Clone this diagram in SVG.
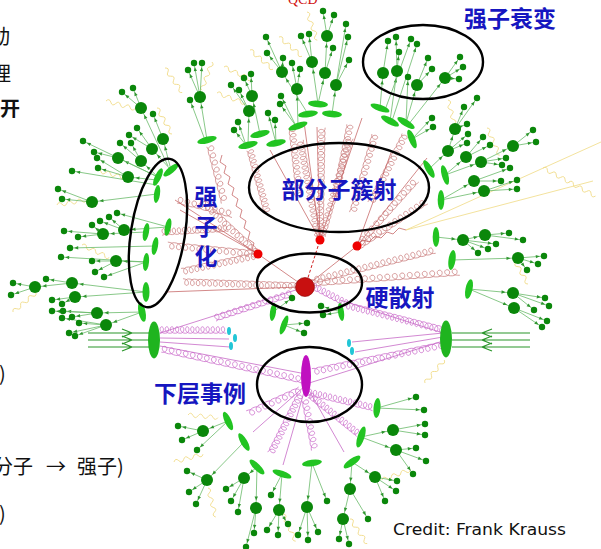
<svg xmlns="http://www.w3.org/2000/svg" width="601" height="549" viewBox="0 0 601 549">
<defs>
<style>
.t{stroke:#6aba6a;stroke-width:.8;marker-end:url(#as)}
.T{stroke:#6aba6a;stroke-width:.8;marker-end:url(#ab)}
.e{fill:#22c422}
.b{fill:#0a870a}
.y{fill:none;stroke:#f0da84;stroke-width:.8}
.r{fill:none;stroke:#c97c7c;stroke-width:.75}
.rl{fill:none;stroke:#c46262;stroke-width:.75}
.p{fill:none;stroke:#cc6ecc;stroke-width:.8}
.pl{fill:none;stroke:#c66ac6;stroke-width:.8}
.k{fill:none;stroke:#000;stroke-width:2.4}
.bm{fill:none;stroke:#2a962a;stroke-width:1.2}
.lb{font-family:"Noto Sans CJK SC","Noto Sans CJK TC",sans-serif;font-weight:bold;fill:#1616c0;font-size:23px;text-anchor:middle}
.bt{font-family:"Noto Sans CJK SC","Noto Sans CJK JP",sans-serif;fill:#111;font-size:20px}
</style>
<marker id="as" markerUnits="userSpaceOnUse" markerWidth="6" markerHeight="6" refX="4.2" refY="0" orient="auto" overflow="visible"><path d="M-4,-1.7L0,0L-4,1.7z" fill="#2f962f"/></marker>
<marker id="ab" markerUnits="userSpaceOnUse" markerWidth="6" markerHeight="6" refX="7.5" refY="0" orient="auto" overflow="visible"><path d="M-4,-1.7L0,0L-4,1.7z" fill="#2f962f"/></marker>
<path id="c50" vector-effect="non-scaling-stroke" d="M0,3.25c5,0 5,-6.5 2,-6.5c-3,0-3,6.5 4,6.5c5,0 5,-6.5 2,-6.5c-3,0-3,6.5 4,6.5c5,0 5,-6.5 2,-6.5c-3,0-3,6.5 4,6.5c5,0 5,-6.5 2,-6.5c-3,0-3,6.5 4,6.5c5,0 5,-6.5 2,-6.5c-3,0-3,6.5 4,6.5c5,0 5,-6.5 2,-6.5c-3,0-3,6.5 4,6.5c5,0 5,-6.5 2,-6.5c-3,0-3,6.5 4,6.5c5,0 5,-6.5 2,-6.5c-3,0-3,6.5 4,6.5"/>
<path id="c80" vector-effect="non-scaling-stroke" d="M0,3.25c5,0 5,-6.5 2,-6.5c-3,0-3,6.5 4,6.5c5,0 5,-6.5 2,-6.5c-3,0-3,6.5 4,6.5c5,0 5,-6.5 2,-6.5c-3,0-3,6.5 4,6.5c5,0 5,-6.5 2,-6.5c-3,0-3,6.5 4,6.5c5,0 5,-6.5 2,-6.5c-3,0-3,6.5 4,6.5c5,0 5,-6.5 2,-6.5c-3,0-3,6.5 4,6.5c5,0 5,-6.5 2,-6.5c-3,0-3,6.5 4,6.5c5,0 5,-6.5 2,-6.5c-3,0-3,6.5 4,6.5c5,0 5,-6.5 2,-6.5c-3,0-3,6.5 4,6.5c5,0 5,-6.5 2,-6.5c-3,0-3,6.5 4,6.5c5,0 5,-6.5 2,-6.5c-3,0-3,6.5 4,6.5c5,0 5,-6.5 2,-6.5c-3,0-3,6.5 4,6.5c5,0 5,-6.5 2,-6.5c-3,0-3,6.5 4,6.5"/>
<path id="c120" vector-effect="non-scaling-stroke" d="M0,3.25c5,0 5,-6.5 2,-6.5c-3,0-3,6.5 4,6.5c5,0 5,-6.5 2,-6.5c-3,0-3,6.5 4,6.5c5,0 5,-6.5 2,-6.5c-3,0-3,6.5 4,6.5c5,0 5,-6.5 2,-6.5c-3,0-3,6.5 4,6.5c5,0 5,-6.5 2,-6.5c-3,0-3,6.5 4,6.5c5,0 5,-6.5 2,-6.5c-3,0-3,6.5 4,6.5c5,0 5,-6.5 2,-6.5c-3,0-3,6.5 4,6.5c5,0 5,-6.5 2,-6.5c-3,0-3,6.5 4,6.5c5,0 5,-6.5 2,-6.5c-3,0-3,6.5 4,6.5c5,0 5,-6.5 2,-6.5c-3,0-3,6.5 4,6.5c5,0 5,-6.5 2,-6.5c-3,0-3,6.5 4,6.5c5,0 5,-6.5 2,-6.5c-3,0-3,6.5 4,6.5c5,0 5,-6.5 2,-6.5c-3,0-3,6.5 4,6.5c5,0 5,-6.5 2,-6.5c-3,0-3,6.5 4,6.5c5,0 5,-6.5 2,-6.5c-3,0-3,6.5 4,6.5c5,0 5,-6.5 2,-6.5c-3,0-3,6.5 4,6.5c5,0 5,-6.5 2,-6.5c-3,0-3,6.5 4,6.5c5,0 5,-6.5 2,-6.5c-3,0-3,6.5 4,6.5c5,0 5,-6.5 2,-6.5c-3,0-3,6.5 4,6.5c5,0 5,-6.5 2,-6.5c-3,0-3,6.5 4,6.5"/>
<path id="w" d="M0,0q2.5,-4 5,0t5,0t5,0t5,0t5,0t5,0"/>
</defs>

<g id="slide-text">
<text class="bt" x="-10" y="44">动</text>
<text class="bt" x="-9" y="81">理</text>
<text class="bt" x="0" y="116" font-weight="bold" font-size="21">开</text>
<text class="bt" x="-1" y="381">)</text>
<text class="bt" y="474" font-size="22"><tspan x="-7">分子</tspan><tspan x="46">→</tspan><tspan x="77">强子)</tspan></text>
<text class="bt" x="-1" y="521">)</text>
</g>

<text id="qcd" x="288" y="4" font-family="Liberation Serif,serif" font-size="14" fill="#d01010">QCD</text>

<g id="parton-shower">
<use href="#c80" class="r" transform="translate(256,254) rotate(-174.4) scale(1.14,1)"/>
<use href="#c80" class="r" transform="translate(255,256) rotate(168) scale(.96,1)"/>
<use href="#c80" class="r" transform="translate(256,252) rotate(-137.1) scale(.96,1)"/>
<use href="#c50" class="r" transform="translate(210,146) rotate(75.7) scale(1.22,1)"/>
<use href="#c80" class="r" transform="translate(250,150) rotate(74.5) scale(.84,1)"/>
<use href="#c120" class="r" transform="translate(320,238) rotate(-89) scale(.92,1)"/>
<use href="#c120" class="r" transform="translate(318,236) rotate(-100.6) scale(.81,1)"/>
<use href="#c120" class="r" transform="translate(322,236) rotate(-74.1) scale(.85,1)"/>
<use href="#c80" class="r" transform="translate(357,246) rotate(-48.1) scale(1.14,1)"/>
<use href="#c80" class="r" transform="translate(356,248) rotate(-33.7) scale(1.08,1)"/>
<use href="#c120" class="r" transform="translate(310,283) rotate(-4.2) scale(1.25,1)"/>
<use href="#c120" class="r" transform="translate(315,280) rotate(-14) scale(1.03,1)"/>
<use href="#c120" class="r" transform="translate(298,286) rotate(-178) scale(.96,1)"/>
<use href="#c80" class="r" transform="translate(292,128) rotate(83.7) scale(.9,1)"/>
<use href="#c80" class="r" transform="translate(350,125) rotate(101.3) scale(.96,1)"/>
<use href="#c80" class="r" transform="translate(405,135) rotate(116.6) scale(.98,1)"/>
<use href="#c80" class="r" transform="translate(375,135) rotate(106) scale(1.04,1)"/>
<use href="#c80" class="r" transform="translate(162,232) rotate(-3.4) scale(.85,1)"/>
<use href="#c50" class="r" transform="translate(178,200) rotate(14.7) scale(1.18,1)"/>
<path class="rl" d="M305,287L258,254M305,287L357,246M258,254L180,210M258,254L175,200M320,240L317,127M320,240L304,122M320,240L362,118M320,240L270,150M357,246L427,158M357,246L392,150M300,287L165,292"/>
<path class="rl" d="M258,254l-6,-4l2,-7l-6,-4l2,-7l-6,-4l2,-7l-6,-4l2,-7l-6,-4l2,-7l-6,-4l2,-7l-6,-4l2,-7l-6,-4l2,-7l-6,-4l2,-7"/>
<path class="rl" d="M357,246l6,-6l6,2l6,-6l6,2l6,-6l6,2l6,-6l7,2"/>
<path d="M305,287L320,240" stroke="#d02020" stroke-width="1" stroke-dasharray="3,2" fill="none"/>
</g>

<g id="underlying-event-lines">
<use href="#c80" class="p" transform="translate(160,330) scale(.85,1)"/>
<use href="#c120" class="p" transform="translate(162,349) rotate(12.4) scale(1.2,1)"/>
<use href="#c80" class="p" transform="translate(215,318) rotate(-18) scale(1.05,1)"/>
<use href="#c120" class="p" transform="translate(443,330) rotate(-165.7) scale(.84,1)"/>
<use href="#c120" class="p" transform="translate(443,345) rotate(168.4) scale(1.11,1)"/>
<use href="#c80" class="p" transform="translate(308,392) rotate(13.4) scale(.86,1)"/>
<use href="#c80" class="p" transform="translate(310,395) rotate(38.7) scale(.8,1)"/>
<use href="#c80" class="p" transform="translate(300,395) rotate(116.6) scale(.84,1)"/>
<use href="#c50" class="p" transform="translate(305,400) rotate(79.1) scale(1.06,1)"/>
<use href="#c50" class="p" transform="translate(300,390) rotate(155.6) scale(1.2,1)"/>
<use href="#c50" class="p" transform="translate(313,286) rotate(27.2) scale(.83,1)"/>
<path class="pl" d="M160,333L302,288M160,338L229,339M160,342L230,347M160,346L306,374M443,333L352,342M443,337L355,352M443,341L306,384M443,333L340,300M306,385L253,432M306,385L283,465M306,385L344,452"/>
</g>

<g id="photons" class="y">
<path d="M406,230L601,142M406,230L593,181"/>
<use href="#w" transform="translate(165,68) rotate(55)"/>
<use href="#w" transform="translate(212,62) rotate(110)"/>
<use href="#w" transform="translate(250,50) rotate(40)"/>
<use href="#w" transform="translate(279,37) rotate(40)"/>
<use href="#w" transform="translate(307,12) rotate(70)"/>
<use href="#w" transform="translate(224,67) rotate(25)"/>
<use href="#w" transform="translate(217,93) rotate(20)"/>
<use href="#w" transform="translate(106,101) rotate(15)"/>
<use href="#w" transform="translate(157,108) rotate(60)"/>
<use href="#w" transform="translate(57,205) rotate(-10)"/>
<use href="#w" transform="translate(82,245) rotate(25)"/>
<use href="#w" transform="translate(13,312) rotate(-40)"/>
<use href="#w" transform="translate(96,170) rotate(15)"/>
<use href="#w" transform="translate(448,100) rotate(75)"/>
<use href="#w" transform="translate(487,128) rotate(65)"/>
<use href="#w" transform="translate(543,168) rotate(28)"/>
<use href="#w" transform="translate(569,182) rotate(28)"/>
<use href="#w" transform="translate(513,258) rotate(60)"/>
<use href="#w" transform="translate(188,415) rotate(5)"/>
<use href="#w" transform="translate(174,462) rotate(-15)"/>
<use href="#w" transform="translate(208,488) rotate(75)"/>
<use href="#w" transform="translate(283,514) rotate(65)"/>
<use href="#w" transform="translate(350,519) rotate(55)"/>
<use href="#w" transform="translate(382,480) rotate(-20)"/>
<use href="#w" transform="translate(425,383) rotate(-50)"/>
</g>

<g id="hadron-lines">
<line class="T" x1="171" y1="170" x2="163" y2="139"/><line class="T" x1="171" y1="170" x2="152" y2="149"/><line class="T" x1="168" y1="166" x2="141" y2="108"/>
<line class="T" x1="158" y1="177" x2="141" y2="161"/><line class="T" x1="158" y1="177" x2="118" y2="158"/><line class="T" x1="157" y1="180" x2="128" y2="177"/>
<line class="t" x1="141" y1="108" x2="122" y2="92"/><line class="t" x1="141" y1="108" x2="133" y2="88"/><line class="t" x1="163" y1="139" x2="153" y2="114"/>
<line class="t" x1="152" y1="149" x2="137" y2="128"/><line class="t" x1="152" y1="149" x2="129" y2="135"/><line class="t" x1="141" y1="161" x2="120" y2="143"/>
<line class="t" x1="141" y1="161" x2="131" y2="143"/><line class="t" x1="118" y1="158" x2="94" y2="152"/><line class="t" x1="128" y1="177" x2="97" y2="158"/>
<line class="t" x1="158" y1="177" x2="83" y2="141"/><line class="t" x1="128" y1="177" x2="98" y2="168"/><line class="t" x1="157" y1="185" x2="72" y2="171"/>
<line class="T" x1="157" y1="194" x2="92" y2="202"/><line class="t" x1="92" y1="202" x2="58" y2="189"/><line class="t" x1="92" y1="202" x2="62" y2="199"/>
<line class="T" x1="168" y1="227" x2="124" y2="230"/><line class="t" x1="168" y1="227" x2="117" y2="213"/><line class="t" x1="124" y1="230" x2="109" y2="217"/><line class="t" x1="124" y1="230" x2="100" y2="221"/>
<line class="T" x1="146" y1="232" x2="103" y2="234"/><line class="t" x1="103" y1="234" x2="92" y2="225"/><line class="t" x1="103" y1="234" x2="64" y2="231"/><line class="t" x1="103" y1="234" x2="78" y2="237"/>
<line class="t" x1="155" y1="246" x2="70" y2="248"/><line class="T" x1="146" y1="262" x2="116" y2="261"/><line class="t" x1="146" y1="262" x2="61" y2="257"/>
<line class="t" x1="116" y1="261" x2="92" y2="261"/><line class="t" x1="116" y1="261" x2="95" y2="272"/><line class="t" x1="146" y1="262" x2="104" y2="277"/>
<line class="T" x1="146" y1="292" x2="72" y2="283"/><line class="T" x1="72" y1="283" x2="35" y2="287"/><line class="t" x1="72" y1="283" x2="46" y2="279"/>
<line class="t" x1="35" y1="287" x2="13" y2="283"/><line class="t" x1="35" y1="287" x2="11" y2="295"/><line class="T" x1="146" y1="292" x2="75" y2="297"/>
<line class="t" x1="75" y1="297" x2="52" y2="300"/><line class="t" x1="75" y1="297" x2="62" y2="304"/><line class="T" x1="142" y1="312" x2="97" y2="313"/>
<line class="t" x1="97" y1="313" x2="63" y2="311"/><line class="t" x1="97" y1="313" x2="52" y2="311"/><line class="t" x1="97" y1="313" x2="72" y2="317"/>
<line class="T" x1="142" y1="312" x2="106" y2="325"/><line class="t" x1="106" y1="325" x2="62" y2="318"/><line class="t" x1="106" y1="325" x2="79" y2="323"/>
<line class="t" x1="106" y1="325" x2="69" y2="333"/><line class="t" x1="106" y1="325" x2="75" y2="336"/>
<line class="T" x1="207" y1="140" x2="200" y2="97"/><line class="t" x1="200" y1="97" x2="194" y2="63"/><line class="t" x1="200" y1="97" x2="202" y2="63"/><line class="t" x1="200" y1="97" x2="188" y2="70"/><line class="t" x1="205" y1="140" x2="190" y2="100"/>
<line class="T" x1="248" y1="145" x2="249" y2="111"/><line class="T" x1="260" y1="134" x2="252" y2="96"/><line class="t" x1="252" y1="96" x2="244" y2="78"/><line class="t" x1="252" y1="96" x2="251" y2="74"/>
<line class="t" x1="249" y1="111" x2="239" y2="90"/><line class="t" x1="249" y1="111" x2="231" y2="85"/><line class="t" x1="246" y1="145" x2="238" y2="122"/><line class="t" x1="246" y1="145" x2="234" y2="130"/>
<line class="t" x1="276" y1="143" x2="268" y2="113"/><line class="t" x1="276" y1="143" x2="275" y2="120"/>
<line class="T" x1="298" y1="126" x2="297" y2="89"/><line class="t" x1="297" y1="89" x2="292" y2="63"/><line class="t" x1="297" y1="89" x2="300" y2="69"/>
<line class="t" x1="296" y1="126" x2="281" y2="96"/><line class="t" x1="296" y1="126" x2="280" y2="104"/><line class="T" x1="308" y1="114" x2="282" y2="72"/>
<line class="t" x1="282" y1="72" x2="266" y2="37"/><line class="t" x1="282" y1="72" x2="267" y2="53"/><line class="t" x1="282" y1="72" x2="283" y2="58"/>
<line class="T" x1="318" y1="104" x2="312" y2="62"/><line class="t" x1="312" y1="62" x2="301" y2="36"/><line class="t" x1="312" y1="62" x2="309" y2="34"/>
<line class="T" x1="318" y1="104" x2="325" y2="73"/><line class="T" x1="325" y1="73" x2="327" y2="36"/><line class="t" x1="327" y1="36" x2="323" y2="11"/>
<line class="t" x1="327" y1="36" x2="334" y2="15"/><line class="t" x1="325" y1="73" x2="333" y2="48"/><line class="T" x1="332" y1="114" x2="336" y2="85"/>
<line class="t" x1="336" y1="85" x2="349" y2="60"/><line class="t" x1="336" y1="85" x2="348" y2="37"/><line class="t" x1="336" y1="85" x2="346" y2="24"/>
<line class="T" x1="380" y1="108" x2="383" y2="73"/><line class="t" x1="383" y1="73" x2="388" y2="41"/><line class="T" x1="390" y1="121" x2="397" y2="71"/>
<line class="t" x1="397" y1="71" x2="396" y2="37"/><line class="t" x1="397" y1="71" x2="399" y2="52"/><line class="t" x1="385" y1="110" x2="411" y2="39"/>
<line class="t" x1="392" y1="121" x2="417" y2="44"/><line class="T" x1="406" y1="123" x2="417" y2="85"/><line class="t" x1="406" y1="123" x2="408" y2="77"/>
<line class="t" x1="417" y1="85" x2="428" y2="58"/><line class="t" x1="417" y1="85" x2="432" y2="69"/><line class="T" x1="408" y1="125" x2="445" y2="78"/>
<line class="t" x1="445" y1="78" x2="460" y2="57"/><line class="t" x1="445" y1="78" x2="463" y2="67"/><line class="t" x1="445" y1="78" x2="459" y2="79"/>
<line class="t" x1="412" y1="139" x2="432" y2="118"/><line class="t" x1="412" y1="139" x2="433" y2="127"/>
<line class="T" x1="429" y1="169" x2="448" y2="151"/><line class="T" x1="448" y1="151" x2="455" y2="129"/><line class="t" x1="455" y1="129" x2="464" y2="107"/>
<line class="t" x1="455" y1="129" x2="477" y2="98"/><line class="t" x1="455" y1="129" x2="467" y2="124"/><line class="t" x1="448" y1="151" x2="468" y2="134"/>
<line class="t" x1="448" y1="151" x2="467" y2="143"/><line class="T" x1="445" y1="175" x2="466" y2="157"/><line class="t" x1="466" y1="157" x2="483" y2="137"/>
<line class="t" x1="466" y1="157" x2="490" y2="145"/><line class="T" x1="445" y1="175" x2="481" y2="162"/><line class="t" x1="481" y1="162" x2="506" y2="158"/>
<line class="t" x1="481" y1="162" x2="502" y2="165"/><line class="T" x1="481" y1="162" x2="513" y2="146"/><line class="t" x1="513" y1="146" x2="533" y2="130"/>
<line class="t" x1="513" y1="146" x2="536" y2="142"/><line class="T" x1="441" y1="200" x2="474" y2="181"/><line class="t" x1="474" y1="181" x2="510" y2="168"/>
<line class="t" x1="474" y1="181" x2="501" y2="181"/><line class="T" x1="441" y1="200" x2="484" y2="191"/><line class="t" x1="484" y1="191" x2="517" y2="180"/>
<line class="t" x1="484" y1="191" x2="517" y2="189"/>
<line class="T" x1="436" y1="237" x2="463" y2="240"/><line class="T" x1="463" y1="240" x2="485" y2="235"/><line class="t" x1="485" y1="235" x2="509" y2="233"/>
<line class="t" x1="485" y1="235" x2="523" y2="240"/><line class="t" x1="463" y1="240" x2="496" y2="244"/><line class="t" x1="463" y1="240" x2="488" y2="249"/>
<line class="t" x1="463" y1="240" x2="478" y2="253"/><line class="T" x1="452" y1="260" x2="518" y2="258"/><line class="t" x1="518" y1="258" x2="544" y2="256"/>
<line class="t" x1="518" y1="258" x2="538" y2="264"/><line class="t" x1="518" y1="258" x2="527" y2="270"/>
<line class="T" x1="469" y1="289" x2="513" y2="293"/><line class="T" x1="469" y1="289" x2="514" y2="308"/><line class="t" x1="513" y1="293" x2="545" y2="298"/>
<line class="t" x1="513" y1="293" x2="549" y2="306"/><line class="t" x1="513" y1="293" x2="534" y2="310"/><line class="t" x1="514" y1="308" x2="547" y2="321"/><line class="t" x1="514" y1="308" x2="542" y2="327"/>
<line class="t" x1="273" y1="312" x2="292" y2="298"/><line class="t" x1="284" y1="325" x2="307" y2="323"/><line class="t" x1="284" y1="325" x2="304" y2="333"/>
<line class="t" x1="341" y1="312" x2="321" y2="306"/><line class="t" x1="341" y1="312" x2="323" y2="315"/>
<line class="t" x1="377" y1="408" x2="416" y2="397"/><line class="t" x1="377" y1="408" x2="424" y2="410"/>
<line class="T" x1="361" y1="437" x2="393" y2="430"/><line class="T" x1="361" y1="437" x2="396" y2="450"/><line class="t" x1="393" y1="430" x2="425" y2="424"/>
<line class="t" x1="393" y1="430" x2="425" y2="435"/><line class="t" x1="396" y1="450" x2="416" y2="448"/><line class="t" x1="396" y1="450" x2="426" y2="461"/><line class="t" x1="396" y1="450" x2="413" y2="474"/>
<line class="T" x1="352" y1="462" x2="375" y2="477"/><line class="t" x1="375" y1="477" x2="397" y2="481"/><line class="t" x1="375" y1="477" x2="396" y2="491"/>
<line class="t" x1="375" y1="477" x2="385" y2="501"/><line class="T" x1="352" y1="462" x2="350" y2="489"/><line class="T" x1="350" y1="489" x2="343" y2="519"/>
<line class="t" x1="350" y1="489" x2="368" y2="519"/><line class="t" x1="343" y1="519" x2="339" y2="539"/><line class="t" x1="343" y1="519" x2="349" y2="544"/>
<line class="T" x1="312" y1="463" x2="307" y2="507"/><line class="t" x1="312" y1="463" x2="327" y2="501"/><line class="t" x1="307" y1="507" x2="298" y2="535"/>
<line class="t" x1="307" y1="507" x2="308" y2="540"/><line class="t" x1="307" y1="507" x2="318" y2="532"/>
<line class="T" x1="282" y1="474" x2="279" y2="510"/><line class="t" x1="282" y1="474" x2="271" y2="495"/><line class="t" x1="279" y1="510" x2="267" y2="530"/>
<line class="t" x1="279" y1="510" x2="278" y2="535"/><line class="t" x1="279" y1="510" x2="288" y2="524"/>
<line class="T" x1="257" y1="467" x2="244" y2="478"/><line class="T" x1="257" y1="467" x2="256" y2="508"/><line class="t" x1="244" y1="478" x2="226" y2="489"/>
<line class="t" x1="244" y1="478" x2="231" y2="501"/><line class="t" x1="244" y1="478" x2="238" y2="512"/><line class="t" x1="256" y1="508" x2="254" y2="533"/><line class="t" x1="256" y1="508" x2="246" y2="547"/>
<line class="T" x1="244" y1="442" x2="207" y2="480"/><line class="t" x1="207" y1="480" x2="187" y2="471"/><line class="t" x1="207" y1="480" x2="189" y2="492"/><line class="t" x1="207" y1="480" x2="196" y2="504"/>
<line class="T" x1="228" y1="421" x2="203" y2="431"/><line class="t" x1="203" y1="431" x2="178" y2="426"/><line class="t" x1="203" y1="431" x2="182" y2="440"/><line class="t" x1="228" y1="421" x2="197" y2="450"/>
</g>

<g id="beams">
<path class="bm" d="M88,333H150M88,340H150M88,347H150M122,329L132,333L122,337M122,336L132,340L122,344M122,343L132,347L122,351"/>
<path class="bm" d="M452,333H530M452,340H530M452,347H530M492,329L482,333L492,337M492,336L482,340L492,344M492,343L482,347L492,351"/>
<ellipse cx="154" cy="340" rx="6" ry="18.5" fill="#1fb41f"/>
<ellipse cx="446" cy="339" rx="6" ry="18.5" fill="#1fb41f"/>
<g fill="#22c6d6">
<ellipse cx="229" cy="331" rx="2" ry="4"/><ellipse cx="235" cy="338" rx="2" ry="4"/><ellipse cx="231" cy="346" rx="2" ry="4"/>
<ellipse cx="349" cy="343" rx="2" ry="4"/><ellipse cx="352" cy="351" rx="2" ry="4"/>
</g>
</g>

<g id="clusters" class="e">
<ellipse cx="171" cy="170" rx="3.2" ry="9.5" transform="rotate(50 171 170)"/>
<ellipse cx="158" cy="177" rx="3.2" ry="9.5" transform="rotate(25 158 177)"/>
<ellipse cx="157" cy="194" rx="3" ry="9" transform="rotate(8 157 194)"/>
<ellipse cx="168" cy="227" rx="3" ry="9" transform="rotate(12 168 227)"/>
<ellipse cx="146" cy="232" rx="3" ry="9" transform="rotate(10 146 232)"/>
<ellipse cx="155" cy="246" rx="3" ry="9" transform="rotate(10 155 246)"/>
<ellipse cx="146" cy="262" rx="3" ry="9" transform="rotate(5 146 262)"/>
<ellipse cx="146" cy="292" rx="3.5" ry="10"/>
<ellipse cx="142" cy="312" rx="3.5" ry="10" transform="rotate(-12 142 312)"/>
<ellipse cx="207" cy="140" rx="10" ry="3.3" transform="rotate(-15 207 140)"/>
<ellipse cx="248" cy="145" rx="10" ry="3.3" transform="rotate(-15 248 145)"/>
<ellipse cx="260" cy="134" rx="10" ry="3.3" transform="rotate(-15 260 134)"/>
<ellipse cx="276" cy="143" rx="10" ry="3.3" transform="rotate(-12 276 143)"/>
<ellipse cx="298" cy="126" rx="10" ry="3.3" transform="rotate(-20 298 126)"/>
<ellipse cx="308" cy="114" rx="10" ry="3.3" transform="rotate(-8 308 114)"/>
<ellipse cx="318" cy="104" rx="10" ry="3.3" transform="rotate(5 318 104)"/>
<ellipse cx="332" cy="114" rx="10" ry="3.3" transform="rotate(5 332 114)"/>
<ellipse cx="380" cy="108" rx="10" ry="3.3" transform="rotate(20 380 108)"/>
<ellipse cx="390" cy="121" rx="10" ry="3.3" transform="rotate(28 390 121)"/>
<ellipse cx="406" cy="123" rx="10" ry="3.3" transform="rotate(32 406 123)"/>
<ellipse cx="412" cy="139" rx="3.3" ry="10" transform="rotate(-22 412 139)"/>
<ellipse cx="429" cy="169" rx="3.3" ry="10" transform="rotate(-30 429 169)"/>
<ellipse cx="445" cy="175" rx="3.3" ry="10" transform="rotate(-15 445 175)"/>
<ellipse cx="441" cy="200" rx="3.3" ry="10"/>
<ellipse cx="436" cy="237" rx="3.3" ry="10"/>
<ellipse cx="452" cy="260" rx="3.5" ry="10" transform="rotate(8 452 260)"/>
<ellipse cx="469" cy="289" rx="3.5" ry="10" transform="rotate(12 469 289)"/>
<ellipse cx="273" cy="312" rx="3" ry="9" transform="rotate(8 273 312)"/>
<ellipse cx="284" cy="325" rx="3" ry="10" transform="rotate(20 284 325)"/>
<ellipse cx="341" cy="312" rx="3" ry="9" transform="rotate(-8 341 312)"/>
<ellipse cx="377" cy="408" rx="3.5" ry="10" transform="rotate(5 377 408)"/>
<ellipse cx="361" cy="437" rx="3.5" ry="11" transform="rotate(18 361 437)"/>
<ellipse cx="352" cy="462" rx="10" ry="3.5" transform="rotate(-35 352 462)"/>
<ellipse cx="312" cy="463" rx="10" ry="3.3" transform="rotate(-8 312 463)"/>
<ellipse cx="282" cy="474" rx="10" ry="3.3" transform="rotate(20 282 474)"/>
<ellipse cx="257" cy="467" rx="10" ry="3.3" transform="rotate(45 257 467)"/>
<ellipse cx="244" cy="442" rx="3.3" ry="10" transform="rotate(-30 244 442)"/>
<ellipse cx="228" cy="421" rx="3.3" ry="10" transform="rotate(-25 228 421)"/>
</g>

<g id="hadrons-big" class="b">
<circle cx="141" cy="108" r="6"/><circle cx="163" cy="139" r="6"/><circle cx="152" cy="149" r="6"/><circle cx="141" cy="161" r="6"/><circle cx="118" cy="158" r="6"/><circle cx="128" cy="177" r="6"/>
<circle cx="92" cy="202" r="6"/><circle cx="124" cy="230" r="6"/><circle cx="103" cy="234" r="6"/><circle cx="116" cy="261" r="6"/><circle cx="72" cy="283" r="6"/><circle cx="35" cy="287" r="6"/><circle cx="75" cy="297" r="6"/><circle cx="97" cy="313" r="6"/><circle cx="106" cy="325" r="6"/>
<circle cx="200" cy="97" r="6"/><circle cx="252" cy="96" r="6"/><circle cx="249" cy="111" r="6"/>
<circle cx="282" cy="72" r="6"/><circle cx="297" cy="89" r="6"/><circle cx="312" cy="62" r="6"/><circle cx="325" cy="73" r="6"/><circle cx="336" cy="85" r="6"/><circle cx="327" cy="36" r="6"/>
<circle cx="383" cy="73" r="6"/><circle cx="397" cy="71" r="6"/><circle cx="417" cy="85" r="6"/><circle cx="445" cy="78" r="6"/>
<circle cx="455" cy="129" r="6"/><circle cx="448" cy="151" r="6"/><circle cx="466" cy="157" r="6"/><circle cx="481" cy="162" r="6"/><circle cx="474" cy="181" r="6"/><circle cx="484" cy="191" r="6"/><circle cx="513" cy="146" r="6"/>
<circle cx="463" cy="240" r="6"/><circle cx="485" cy="235" r="6"/><circle cx="518" cy="258" r="6"/><circle cx="513" cy="293" r="6"/><circle cx="514" cy="308" r="6"/>
<circle cx="393" cy="430" r="6"/><circle cx="396" cy="450" r="6"/><circle cx="375" cy="477" r="6"/><circle cx="350" cy="489" r="6"/><circle cx="343" cy="519" r="6"/><circle cx="307" cy="507" r="6"/><circle cx="279" cy="510" r="6"/><circle cx="244" cy="478" r="6"/><circle cx="256" cy="508" r="6"/><circle cx="207" cy="480" r="6"/><circle cx="203" cy="431" r="6"/>
</g>
<g id="hadrons-small" class="b">
<circle cx="122" cy="92" r="3.2"/><circle cx="133" cy="88" r="3.2"/><circle cx="153" cy="114" r="3.2"/><circle cx="137" cy="128" r="3.2"/><circle cx="129" cy="135" r="3.2"/><circle cx="120" cy="143" r="3.2"/><circle cx="131" cy="143" r="3.2"/><circle cx="94" cy="152" r="3.2"/><circle cx="97" cy="158" r="3.2"/><circle cx="83" cy="141" r="3.2"/><circle cx="98" cy="168" r="3.2"/><circle cx="72" cy="171" r="3.2"/>
<circle cx="58" cy="189" r="3.2"/><circle cx="62" cy="199" r="3.2"/><circle cx="117" cy="213" r="3.2"/><circle cx="109" cy="217" r="3.2"/><circle cx="100" cy="221" r="3.2"/><circle cx="92" cy="225" r="3.2"/><circle cx="64" cy="231" r="3.2"/><circle cx="78" cy="237" r="3.2"/><circle cx="70" cy="248" r="3.2"/><circle cx="61" cy="257" r="3.2"/><circle cx="92" cy="261" r="3.2"/><circle cx="95" cy="272" r="3.2"/><circle cx="104" cy="277" r="3.2"/><circle cx="46" cy="279" r="3.2"/><circle cx="13" cy="283" r="3.2"/><circle cx="11" cy="295" r="3.2"/><circle cx="52" cy="300" r="3.2"/><circle cx="62" cy="304" r="3.2"/><circle cx="63" cy="311" r="3.2"/><circle cx="52" cy="311" r="3.2"/><circle cx="72" cy="317" r="3.2"/><circle cx="62" cy="318" r="3.2"/><circle cx="79" cy="323" r="3.2"/><circle cx="69" cy="333" r="3.2"/><circle cx="75" cy="336" r="3.2"/>
<circle cx="194" cy="63" r="3.2"/><circle cx="202" cy="63" r="3.2"/><circle cx="188" cy="70" r="3.2"/><circle cx="190" cy="100" r="3.2"/>
<circle cx="244" cy="78" r="3.2"/><circle cx="251" cy="74" r="3.2"/><circle cx="239" cy="90" r="3.2"/><circle cx="231" cy="85" r="3.2"/><circle cx="238" cy="122" r="3.2"/><circle cx="234" cy="130" r="3.2"/><circle cx="268" cy="113" r="3.2"/><circle cx="275" cy="120" r="3.2"/>
<circle cx="266" cy="37" r="3.2"/><circle cx="267" cy="53" r="3.2"/><circle cx="283" cy="58" r="3.2"/><circle cx="292" cy="63" r="3.2"/><circle cx="300" cy="69" r="3.2"/><circle cx="281" cy="96" r="3.2"/><circle cx="280" cy="104" r="3.2"/><circle cx="301" cy="36" r="3.2"/><circle cx="309" cy="34" r="3.2"/><circle cx="323" cy="11" r="3.2"/><circle cx="334" cy="15" r="3.2"/><circle cx="346" cy="24" r="3.2"/><circle cx="348" cy="37" r="3.2"/><circle cx="333" cy="48" r="3.2"/><circle cx="349" cy="60" r="3.2"/>
<circle cx="388" cy="41" r="3.2"/><circle cx="396" cy="37" r="3.2"/><circle cx="399" cy="52" r="3.2"/><circle cx="411" cy="39" r="3.2"/><circle cx="417" cy="44" r="3.2"/><circle cx="408" cy="77" r="3.2"/><circle cx="428" cy="58" r="3.2"/><circle cx="432" cy="69" r="3.2"/><circle cx="460" cy="57" r="3.2"/><circle cx="463" cy="67" r="3.2"/><circle cx="459" cy="79" r="3.2"/><circle cx="432" cy="118" r="3.2"/><circle cx="433" cy="127" r="3.2"/>
<circle cx="464" cy="107" r="3.2"/><circle cx="477" cy="98" r="3.2"/><circle cx="467" cy="124" r="3.2"/><circle cx="468" cy="134" r="3.2"/><circle cx="467" cy="143" r="3.2"/><circle cx="483" cy="137" r="3.2"/><circle cx="490" cy="145" r="3.2"/><circle cx="506" cy="158" r="3.2"/><circle cx="502" cy="165" r="3.2"/><circle cx="533" cy="130" r="3.2"/><circle cx="536" cy="142" r="3.2"/><circle cx="510" cy="168" r="3.2"/><circle cx="501" cy="181" r="3.2"/><circle cx="517" cy="180" r="3.2"/><circle cx="517" cy="189" r="3.2"/>
<circle cx="509" cy="233" r="3.2"/><circle cx="523" cy="240" r="3.2"/><circle cx="496" cy="244" r="3.2"/><circle cx="488" cy="249" r="3.2"/><circle cx="478" cy="253" r="3.2"/><circle cx="544" cy="256" r="3.2"/><circle cx="538" cy="264" r="3.2"/><circle cx="527" cy="270" r="3.2"/>
<circle cx="545" cy="298" r="3.2"/><circle cx="549" cy="306" r="3.2"/><circle cx="534" cy="310" r="3.2"/><circle cx="547" cy="321" r="3.2"/><circle cx="542" cy="327" r="3.2"/>
<circle cx="292" cy="298" r="3.2"/><circle cx="307" cy="323" r="3.2"/><circle cx="304" cy="333" r="3.2"/><circle cx="321" cy="306" r="3.2"/><circle cx="323" cy="315" r="3.2"/>
<circle cx="416" cy="397" r="3.2"/><circle cx="424" cy="410" r="3.2"/><circle cx="425" cy="424" r="3.2"/><circle cx="425" cy="435" r="3.2"/><circle cx="416" cy="448" r="3.2"/><circle cx="426" cy="461" r="3.2"/><circle cx="413" cy="474" r="3.2"/><circle cx="397" cy="481" r="3.2"/><circle cx="396" cy="491" r="3.2"/><circle cx="385" cy="501" r="3.2"/><circle cx="368" cy="519" r="3.2"/><circle cx="339" cy="539" r="3.2"/><circle cx="349" cy="544" r="3.2"/><circle cx="327" cy="501" r="3.2"/><circle cx="298" cy="535" r="3.2"/><circle cx="308" cy="540" r="3.2"/><circle cx="318" cy="532" r="3.2"/><circle cx="271" cy="495" r="3.2"/><circle cx="267" cy="530" r="3.2"/><circle cx="278" cy="535" r="3.2"/><circle cx="288" cy="524" r="3.2"/><circle cx="226" cy="489" r="3.2"/><circle cx="231" cy="501" r="3.2"/><circle cx="238" cy="512" r="3.2"/><circle cx="254" cy="533" r="3.2"/><circle cx="246" cy="547" r="3.2"/><circle cx="187" cy="471" r="3.2"/><circle cx="189" cy="492" r="3.2"/><circle cx="196" cy="504" r="3.2"/><circle cx="178" cy="426" r="3.2"/><circle cx="182" cy="440" r="3.2"/><circle cx="197" cy="450" r="3.2"/>
</g>

<g id="hard-vertex">
<circle cx="305" cy="287" r="9.5" fill="#c81010" stroke="#8a0000" stroke-width=".6"/>
<circle cx="258" cy="254" r="4.5" fill="#ee0000"/>
<circle cx="320" cy="240" r="4.5" fill="#ee0000"/>
<circle cx="357" cy="246" r="4.5" fill="#ee0000"/>
</g>
<ellipse id="ue-vertex" cx="306" cy="376" rx="5" ry="21" fill="#c010c0"/>

<g id="regions" class="k">
<ellipse id="r-decay" cx="423" cy="62" rx="60" ry="37"/>
<ellipse id="r-shower" cx="339" cy="187.5" rx="90" ry="44.5"/>
<ellipse id="r-hadronisation" cx="158" cy="233" rx="27" ry="75" transform="rotate(9 158 233)"/>
<ellipse id="r-hard" cx="309.5" cy="283" rx="52.5" ry="29.5"/>
<ellipse id="r-ue" cx="309.5" cy="384.5" rx="52.5" ry="37.5"/>
</g>

<g id="labels">
<text class="lb" x="510" y="26.5">强子衰变</text>
<text class="lb" x="339" y="198" font-size="24">部分子簇射</text>
<text class="lb" x="206" y="205" font-size="22">强</text>
<text class="lb" x="206" y="235" font-size="22">子</text>
<text class="lb" x="206" y="265" font-size="22">化</text>
<text class="lb" x="400" y="305.5">硬散射</text>
<text class="lb" x="200" y="401.5">下层事例</text>
<text x="393" y="535" font-family="DejaVu Sans,sans-serif" font-size="16" fill="#111" textLength="173" lengthAdjust="spacingAndGlyphs">Credit: Frank Krauss</text>
</g>
</svg>
